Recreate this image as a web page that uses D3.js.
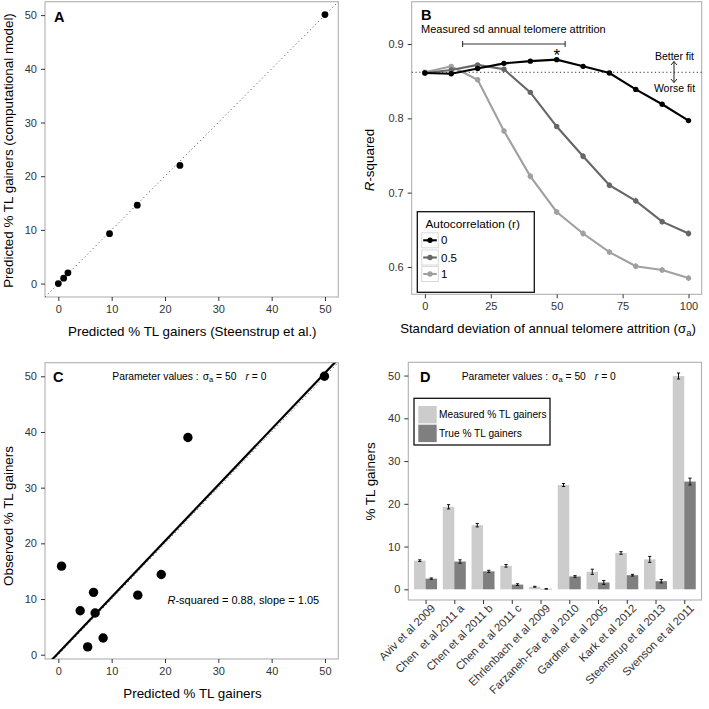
<!DOCTYPE html>
<html><head><meta charset="utf-8">
<script src="https://cdn.jsdelivr.net/npm/d3@7"></script>
<style>
body{margin:0;background:#fff}
text{font-family:"Liberation Sans",Arial,Helvetica,sans-serif;white-space:pre}
</style>
</head><body>
<svg id="c" width="709" height="709"></svg>
<script>
// ---------- DATA ----------
// Panel A
const aSteenstrup = [0, 1, 1.8, 9.6, 14.8, 22.8, 50];
const aModel      = [0, 1, 2.0, 9.3, 14.6, 22.0, 50.1];
const aTicks = [0, 10, 20, 30, 40, 50];
// Panel B
const bSigma = [0, 10, 20, 30, 40, 50, 60, 70, 80, 90, 100];
const bR0  = [0.861, 0.860, 0.867, 0.874, 0.877, 0.879, 0.870, 0.861, 0.839, 0.819, 0.797];
const bR05 = [0.861, 0.865, 0.872, 0.866, 0.835, 0.789, 0.749, 0.710, 0.689, 0.661, 0.645];
const bR1  = [0.862, 0.870, 0.852, 0.783, 0.722, 0.674, 0.645, 0.620, 0.601, 0.596, 0.585];
const bErr0  = [0.002, 0.002, 0.002, 0.002, 0.002, 0.002, 0.002, 0.002, 0.003, 0.003, 0.003];
const bErr05 = [0.002, 0.002, 0.002, 0.002, 0.003, 0.003, 0.004, 0.004, 0.004, 0.004, 0.004];
const bErr1  = [0.002, 0.002, 0.002, 0.003, 0.004, 0.004, 0.004, 0.004, 0.004, 0.004, 0.004];
const bLevels = ["0", "0.5", "1"];
const bXTicks = [0, 25, 50, 75, 100];
const bYTicks = [0.6, 0.7, 0.8, 0.9];
const bMeasuredRange = [14.3, 53.2];
const bMeasuredY = 0.9;
const bBaseline = 0.862;
const bBest = 50;
// Panel C
const cPredicted = [0.6, 4.1, 5.5, 6.6, 6.9, 8.4, 14.9, 19.3, 24.3, 49.9];
const cObserved  = [15.9, 7.9, 1.4, 11.2, 7.5, 3.0, 10.7, 14.4, 39.0, 50.0];
const cFitIntercept = 0.3;
const cFitSlope = 1.006;
const cTicks = [0, 10, 20, 30, 40, 50];
// Panel D
const dStudies = ["Aviv et al 2009", "Chen  et al 2011 a", "Chen et al 2011 b", "Chen et al 2011 c",
  "Ehrlenbach et al 2009", "Farzaneh-Far et al 2010", "Gardner et al 2005", "Kark et al 2012",
  "Steenstrup et al 2013", "Svenson et al 2011"];
const dMeasured    = [6.7, 19.3, 15.0, 5.5, 0.6, 24.4, 4.1, 8.5, 7.0, 49.9];
const dMeasuredErr = [0.2, 0.5, 0.4, 0.3, 0.1, 0.35, 0.6, 0.3, 0.7, 0.7];
const dTrue        = [2.5, 6.5, 4.2, 1.1, 0.1, 3.0, 1.6, 3.3, 1.9, 25.2];
const dTrueErr     = [0.15, 0.4, 0.25, 0.2, 0.05, 0.2, 0.45, 0.2, 0.4, 0.8];
const dSeries = ["Measured % TL gainers", "True % TL gainers"];
const dTicks = [0, 10, 20, 30, 40, 50];

// ---------- STYLE ----------
const FONT = '"Liberation Sans",Arial,Helvetica,sans-serif';
const borderCol = "#b0b0b0", tickCol = "#333", tickTxt = "#333";
const bColors = ["#000000", "#666666", "#a0a0a0"];
const dColors = ["#cccccc", "#7f7f7f"];
const TICKFS = "11px", TITLEFS = "13.4px";

const svg = d3.select("#c");

function frame(x0, x1, y0, y1) {
  svg.append("rect").attr("x", x0).attr("y", y0).attr("width", x1 - x0).attr("height", y1 - y0)
    .attr("fill", "none").attr("stroke", borderCol).attr("stroke-width", 1.1);
}
function axes(x, y, xb, yl, xTicks, yTicks, fmtX, fmtY) {
  if (xTicks) {
    const g = svg.append("g").attr("transform", `translate(0,${xb})`)
      .call(d3.axisBottom(x).tickValues(xTicks).tickSize(4).tickPadding(4).tickFormat(fmtX || d3.format("d")));
    g.select(".domain").remove();
    g.selectAll("line").attr("stroke", tickCol);
    g.selectAll("text").attr("fill", tickTxt).style("font-size", TICKFS).style("font-family", FONT);
  }
  const g2 = svg.append("g").attr("transform", `translate(${yl},0)`)
    .call(d3.axisLeft(y).tickValues(yTicks).tickSize(4).tickPadding(4).tickFormat(fmtY || d3.format("d")));
  g2.select(".domain").remove();
  g2.selectAll("line").attr("stroke", tickCol);
  g2.selectAll("text").attr("fill", tickTxt).style("font-size", TICKFS).style("font-family", FONT);
}
function label(txt, x, y) {
  svg.append("text").attr("x", x).attr("y", y).text(txt)
    .style("font-size", "14.5px").style("font-weight", "bold");
}
function ytitle(x, y, build) {
  const t = svg.append("text").attr("transform", `translate(${x},${y}) rotate(-90)`)
    .attr("text-anchor", "middle").attr("dy", "0.35em").style("font-size", TITLEFS);
  build(t);
}
function paramText(x, y) {
  const t = svg.append("text").attr("x", x).attr("y", y).style("font-size", "10.3px");
  t.append("tspan").text("Parameter values :");
  t.append("tspan").text("σ").attr("dx", 4);
  t.append("tspan").text("a").style("font-size", "7.5px").attr("dy", 2);
  t.append("tspan").text(" = 50").attr("dy", -2);
  t.append("tspan").text("r").style("font-style", "italic").attr("dx", 9);
  t.append("tspan").text(" = 0");
}

// ---------- PANEL A ----------
{
  const x0 = 45, x1 = 338.3, y0 = 1.7, y1 = 297;
  const x = d3.scaleLinear().domain([-2.5, 52.5]).range([x0, x1]);
  const y = d3.scaleLinear().domain([-2.5, 52.5]).range([y1, y0]);
  frame(x0, x1, y0, y1);
  svg.append("line").attr("x1", x(-2.5)).attr("y1", y(-2.5)).attr("x2", x(52.5)).attr("y2", y(52.5))
    .attr("stroke", "#444").attr("stroke-width", 1).attr("stroke-dasharray", "1,3");
  svg.append("g").selectAll("circle").data(aSteenstrup).join("circle")
    .attr("cx", d => x(d)).attr("cy", (d, i) => y(aModel[i])).attr("r", 3.4).attr("fill", "#000");
  axes(x, y, y1, x0, aTicks, aTicks);
  label("A", 54, 21.7);
  svg.append("text").attr("x", 192.3).attr("y", 335.5).attr("text-anchor", "middle")
    .style("font-size", TITLEFS).text("Predicted % TL gainers (Steenstrup et al.)");
  ytitle(8.5, 150.5, t => t.text("Predicted % TL gainers (computational model)"));
}

// ---------- PANEL B ----------
{
  const x0 = 411.7, x1 = 701.7, y0 = 1.7, y1 = 294.3;
  const x = d3.scaleLinear().domain([-5, 105]).range([x0, x1]);
  const y = d3.scaleLinear().domain([0.5632, 0.957]).range([y1, y0]);
  frame(x0, x1, y0, y1);
  svg.append("line").attr("x1", x0).attr("x2", x1).attr("y1", y(bBaseline)).attr("y2", y(bBaseline))
    .attr("stroke", "#333").attr("stroke-width", 1).attr("stroke-dasharray", "1.2,2.6");
  const series = [bR1, bR05, bR0], errs = [bErr1, bErr05, bErr0], cols = [bColors[2], bColors[1], bColors[0]];
  const line = d3.line().x((d, i) => x(bSigma[i])).y(d => y(d));
  series.forEach((s, k) => {
    svg.append("path").attr("d", line(s)).attr("fill", "none").attr("stroke", cols[k]).attr("stroke-width", 2.1);
    svg.append("g").selectAll("line").data(s).join("line")
      .attr("x1", (d, i) => x(bSigma[i])).attr("x2", (d, i) => x(bSigma[i]))
      .attr("y1", (d, i) => y(d - errs[k][i])).attr("y2", (d, i) => y(d + errs[k][i]))
      .attr("stroke", cols[k]).attr("stroke-width", 1.3);
    svg.append("g").selectAll("circle").data(s).join("circle")
      .attr("cx", (d, i) => x(bSigma[i])).attr("cy", d => y(d)).attr("r", 2.7).attr("fill", cols[k]);
  });
  axes(x, y, y1, x0, bXTicks, bYTicks, d3.format("d"), d3.format(".1f"));
  label("B", 421, 20.2);
  svg.append("text").attr("x", 421).attr("y", 33).style("font-size", "11px")
    .text("Measured sd annual telomere attrition");
  const my = y(bMeasuredY);
  svg.append("line").attr("x1", x(bMeasuredRange[0])).attr("x2", x(bMeasuredRange[1])).attr("y1", my).attr("y2", my)
    .attr("stroke", "#333").attr("stroke-width", 1.1);
  bMeasuredRange.forEach(v => svg.append("line").attr("x1", x(v)).attr("x2", x(v)).attr("y1", my - 3).attr("y2", my + 3)
    .attr("stroke", "#333").attr("stroke-width", 1.1));
  svg.append("text").attr("x", x(bBest)).attr("y", 60.5).attr("text-anchor", "middle")
    .style("font-size", "17px").text("*");
  svg.append("text").attr("x", 674.5).attr("y", 60.3).attr("text-anchor", "middle").style("font-size", "10.5px").text("Better fit");
  svg.append("text").attr("x", 674.5).attr("y", 92).attr("text-anchor", "middle").style("font-size", "10.5px").text("Worse fit");
  const ax = 674, ay0 = 61.5, ay1 = 82.5;
  svg.append("line").attr("x1", ax).attr("x2", ax).attr("y1", ay0).attr("y2", ay1).attr("stroke", "#222").attr("stroke-width", 1);
  svg.append("path").attr("d", `M${ax - 3},${ay0 + 3.5}L${ax},${ay0}L${ax + 3},${ay0 + 3.5}M${ax - 3},${ay1 - 3.5}L${ax},${ay1}L${ax + 3},${ay1 - 3.5}`)
    .attr("fill", "none").attr("stroke", "#222").attr("stroke-width", 1);
  const xt = svg.append("text").attr("x", 548).attr("y", 332.5).attr("text-anchor", "middle").style("font-size", "13.2px");
  xt.append("tspan").text("Standard deviation of annual telomere attrition (σ");
  xt.append("tspan").text("a").style("font-size", "9.5px").attr("dy", 3);
  xt.append("tspan").text(")").attr("dy", -3);
  ytitle(369.5, 160, t => {
    t.append("tspan").text("R").style("font-style", "italic");
    t.append("tspan").text("-squared");
  });
  // legend
  const lx0 = 417.3, ly0 = 211.7, lw = 117, lh = 80.6;
  svg.append("rect").attr("x", lx0).attr("y", ly0).attr("width", lw).attr("height", lh)
    .attr("fill", "#fff").attr("stroke", "#111").attr("stroke-width", 1.3);
  svg.append("text").attr("x", 425.5).attr("y", 227.5).style("font-size", "11.8px").text("Autocorrelation (r)");
  const rowY = [240.3, 257.5, 274];
  bLevels.forEach((lv, k) => {
    const cy = rowY[k];
    svg.append("rect").attr("x", 421.7).attr("y", cy - 7.5).attr("width", 16.6).attr("height", 15)
      .attr("fill", "#fff").attr("stroke", "#d9d9d9").attr("stroke-width", 1);
    svg.append("line").attr("x1", 423.2).attr("x2", 436.8).attr("y1", cy).attr("y2", cy)
      .attr("stroke", bColors[k]).attr("stroke-width", 2.1);
    svg.append("circle").attr("cx", 430).attr("cy", cy).attr("r", 2.7).attr("fill", bColors[k]);
    svg.append("text").attr("x", 441).attr("y", cy).attr("dy", "0.35em").style("font-size", "11.5px").text(lv);
  });
}

// ---------- PANEL C ----------
{
  const x0 = 45, x1 = 338.3, y0 = 362.7, y1 = 659;
  const x = d3.scaleLinear().domain([-2.5, 52.5]).range([x0, x1]);
  const y = d3.scaleLinear().domain([-0.77, 52.44]).range([y1, y0]);
  frame(x0, x1, y0, y1);
  svg.append("defs").append("clipPath").attr("id", "clipC").append("rect")
    .attr("x", x0).attr("y", y0).attr("width", x1 - x0).attr("height", y1 - y0);
  const gc = svg.append("g").attr("clip-path", "url(#clipC)");
  gc.append("line").attr("x1", x(-3)).attr("y1", y(-3)).attr("x2", x(53)).attr("y2", y(53))
    .attr("stroke", "#444").attr("stroke-width", 1).attr("stroke-dasharray", "1,3");
  const fx0 = -3, fx1 = 53;
  gc.append("line").attr("x1", x(fx0)).attr("y1", y(cFitIntercept + cFitSlope * fx0))
    .attr("x2", x(fx1)).attr("y2", y(cFitIntercept + cFitSlope * fx1))
    .attr("stroke", "#000").attr("stroke-width", 2.2);
  svg.append("g").selectAll("circle").data(cPredicted).join("circle")
    .attr("cx", d => x(d)).attr("cy", (d, i) => y(cObserved[i])).attr("r", 4.7).attr("fill", "#000");
  axes(x, y, y1, x0, cTicks, cTicks);
  label("C", 53, 381.5);
  paramText(112.3, 380);
  const rt = svg.append("text").attr("x", 167.5).attr("y", 604).style("font-size", "11px");
  rt.append("tspan").text("R").style("font-style", "italic");
  rt.append("tspan").text("-squared = 0.88, slope = 1.05");
  svg.append("text").attr("x", 192.5).attr("y", 697.8).attr("text-anchor", "middle")
    .style("font-size", TITLEFS).text("Predicted % TL gainers");
  ytitle(8.5, 516, t => t.text("Observed % TL gainers"));
}

// ---------- PANEL D ----------
{
  const x0 = 408.3, x1 = 701.5, y0 = 362.3, y1 = 600;
  const x = d3.scaleLinear().domain([0.4, dStudies.length + 0.6]).range([x0, x1]);
  const y = d3.scaleLinear().domain([-2.5, 53.1]).range([y1, y0]);
  frame(x0, x1, y0, y1);
  const bw = 0.4;
  const groups = [[dMeasured, dMeasuredErr, -bw], [dTrue, dTrueErr, 0]];
  groups.forEach(([vals, errs, off], k) => {
    svg.append("g").selectAll("rect").data(vals).join("rect")
      .attr("x", (d, i) => x(i + 1 + off)).attr("width", x(bw) - x(0))
      .attr("y", d => y(d)).attr("height", d => y(0) - y(d)).attr("fill", dColors[k]);
    const cx = i => x(i + 1 + off + bw / 2);
    const eg = svg.append("g").attr("stroke", "#111").attr("stroke-width", 1);
    vals.forEach((v, i) => {
      const c = cx(i), a = y(v - errs[i]), b = y(v + errs[i]);
      eg.append("line").attr("x1", c).attr("x2", c).attr("y1", a).attr("y2", b);
      eg.append("line").attr("x1", c - 1.6).attr("x2", c + 1.6).attr("y1", a).attr("y2", a);
      eg.append("line").attr("x1", c - 1.6).attr("x2", c + 1.6).attr("y1", b).attr("y2", b);
    });
  });
  const ga = svg.append("g").attr("transform", `translate(0,${y1})`)
    .call(d3.axisBottom(x).tickValues(d3.range(1, dStudies.length + 1)).tickSize(4).tickPadding(3)
      .tickFormat(d => dStudies[d - 1]));
  ga.select(".domain").remove();
  ga.selectAll("line").attr("stroke", tickCol);
  ga.selectAll("text").attr("fill", tickTxt).style("font-size", "11.3px").style("font-family", FONT)
    .attr("text-anchor", "end").attr("dy", 0)
    .attr("transform", "translate(5,4) rotate(-45)").attr("y", 7).attr("x", 0);
  axes(x, y, null, x0, null, dTicks);
  label("D", 420, 381.5);
  paramText(461.7, 380.4);
  ytitle(370, 481.5, t => t.text("% TL gainers"));
  svg.append("rect").attr("x", 414).attr("y", 398.3).attr("width", 136).attr("height", 46.7)
    .attr("fill", "#fff").attr("stroke", "#111").attr("stroke-width", 1.3);
  const ky = [406, 424.7];
  dSeries.forEach((s, k) => {
    svg.append("rect").attr("x", 418.3).attr("y", ky[k]).attr("width", 18.4).attr("height", 17.4)
      .attr("fill", dColors[k]);
    svg.append("text").attr("x", 439).attr("y", ky[k] + 8.7).attr("dy", "0.35em").style("font-size", "10.2px").text(s);
  });
}
</script>
</body></html>
